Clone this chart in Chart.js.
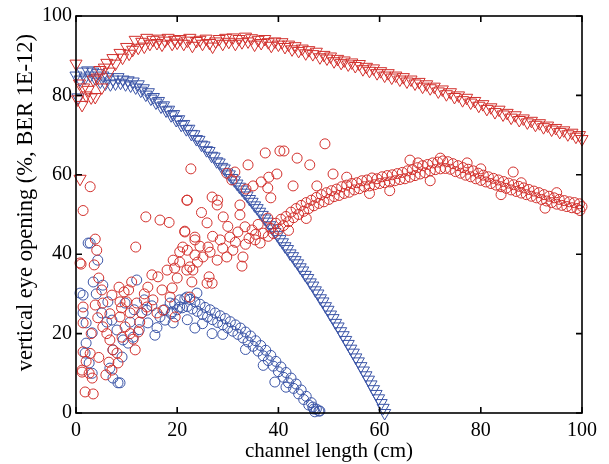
<!DOCTYPE html>
<html>
<head>
<meta charset="utf-8">
<script src="https://cdn.jsdelivr.net/npm/chart.js@4/dist/chart.umd.min.js"></script>
<style>
  body { margin: 0; background: #fff; }
  canvas { display: block; }
</style>
</head>
<body>
<canvas id="eyeChart" width="609" height="464"></canvas>
<script>
// x = channel length (cm), y = vertical eye opening (%)
const ticks = [0, 20, 40, 60, 80, 100];
const xTitle = 'channel length (cm)';
const yTitle = 'vertical eye opening (%, BER 1E-12)';

const redTri = [[0,88],[0.3,79],[0.7,83],[0.8,59],[1.2,77.6],[1.5,82],[2,80],[2.4,81.4],[3,79.5],[3.4,84],[3.8,79.6],[4.2,84.5],
  [4.7,86.4],[5.1,82],[5.6,87],[6.1,88.2],[6.6,86],[7.3,89.4],[7.8,88],[8.7,90.7],[9.2,89.5],[10,92.2],[10.5,90.5],
  [11.2,91.5],[11.7,94],[12.3,92],[13,93.5],[13.5,92.3],[14,94.5],[14.6,93],[15.2,94],[16,93.2],[16.5,94.3],[17,92.8],
  [17.6,93.8],[18.2,94.5],[19,93],[19.5,94],[20,93.3],[20.6,94.2],[21.3,93],[22,93.8],[22.5,94.5],[23,92.5],[23.8,93.7],
  [24.5,94],[25,93],[25.7,94.3],[26.4,93.2],[27,92.3],[27.6,93.6],[28.3,94.2],[29,93],[29.6,94.5],[30.2,93.5],[31,94.6],
  [31.5,93],[32.2,94.2],[32.8,93.4],[33.5,94.8],[34,93.6],[34.7,94.4],[35.3,92.8],[36,94],[36.6,93.2],[37.3,94.2],[38,93.4],
  [38.6,92.5],[39.3,93.6],[40,92.8],[40.7,93.4],[41.3,92.2],[42,92.8],[42.7,91.6],[43.3,92.4],[44,91.2],[44.7,91.8],
  [45.4,90.6],[46,91.4],[46.8,90.4],[47.5,91],[48.2,89.6],[49,90.2],[49.6,89.3],[50.3,89.8],[51,88.6],[51.7,89.2],
  [52.4,88.2],[53,88.8],[53.8,87.8],[54.5,88.3],[55.2,87.4],[56,87.9],[56.7,86.6],[57.4,87.2],[58,86.2],[58.8,86.8],
  [59.5,85.6],[60.2,86.1],[61,85],[61.7,85.6],[62.4,84.5],[63.2,85],[64,84],[64.7,84.6],[65.4,83.5],[66.2,84],[67,83],
  [67.8,83.4],[68.5,82.2],[69.3,82.8],[70,81.8],[70.8,82.2],[71.6,81],[72.4,81.5],[73.2,80.3],[74,80.8],[74.8,79.6],
  [75.6,80],[76.4,78.8],[77.2,79.4],[78,78.2],[78.8,78.6],[79.6,77.4],[80.4,77.8],[81.2,76.6],[82,77],[82.8,75.8],
  [83.6,76.4],[84.4,75.2],[85.2,75.6],[86,74.4],[86.8,75],[87.6,73.8],[88.4,74.2],[89.2,73.2],[90,73.6],[90.8,72.6],
  [91.6,73],[92.4,72],[93.2,72.4],[94,71.4],[94.8,71.8],[95.6,70.8],[96.4,71.2],[97.2,70.2],[98,70.6],[98.8,69.6],
  [99.5,70],[100,69]];

const blueTri = [[0,85],[0.4,79.5],[0.8,84],[1.3,86],[1.8,84.5],[2.3,86.3],[2.8,85],[3.3,86],[3.8,84.3],[4.3,85.6],
  [4.8,83.5],[5.3,85],[5.8,83],[6.3,84.6],[6.8,82.8],[7.3,84],[7.8,83],[8.3,84.6],[8.8,83.2],[9.3,84],[9.8,82.8],
  [10.3,83.8],[10.8,82.5],[11.3,83.5],[11.8,82],[12.3,82.8],[12.8,81.2],[13.3,81.8],[13.8,80.2],[14.3,80.8],[14.8,79.2],
  [15.3,79.6],[15.8,78.2],[16.3,78.6],[16.8,77.2],[17.3,77.5],[17.8,76.2],[18.3,76.4],[18.8,75],[19.3,75.3],[19.8,73.8],
  [20.3,74],[20.8,72.6],[21.3,72.8],[21.8,71.5],[22.3,71.6],[22.8,70.3],[23.3,70.2],[23.8,69],[24.3,68.8],[24.8,67.6],
  [25.3,67.4],[25.8,66.2],[26.3,66],[26.8,64.8],[27.3,64.6],[27.8,63.4],[28.3,63.1],[28.8,62],[29.3,61.6],[29.8,60.6],
  [30.3,60.1],[30.8,59.2],[31.3,58.6],[31.8,57.8],[32.3,57],[32.8,56.3],[33.3,55.5],[33.8,54.8],[34.3,53.9],[34.8,53.2],
  [35.3,52.3],[35.8,51.6],[36.3,50.7],[36.8,49.9],[37.3,49],[37.8,48.2],[38.3,47.3],[38.8,46.5],[39.3,45.6],[39.8,44.8],
  [40.3,43.8],[40.8,43],[41.3,42],[41.8,41.3],[42.3,40.2],[42.8,39.5],[43.3,38.5],[43.8,37.7],[44.3,36.7],[44.8,35.9],
  [45.3,34.8],[45.8,34],[46.3,32.9],[46.8,32.1],[47.3,30.9],[47.8,30.1],[48.3,28.9],[48.8,28.1],[49.3,26.9],[49.8,26],
  [50.3,24.8],[50.8,23.9],[51.3,22.7],[51.8,21.8],[52.3,20.6],[52.8,19.6],[53.3,18.4],[53.8,17.4],[54.3,16.2],[54.8,15.2],
  [55.3,14],[55.8,13],[56.3,11.8],[56.8,10.7],[57.3,9.5],[57.8,8.4],[58.3,7.2],[58.8,6],[59.3,4.8],[59.8,3.7],[60.3,2.5],
  [60.7,1.3],[61,0]];

const redCirc = [[2.8,57],[1.4,51],[3.8,43.8],[4.1,41],[1,37.5],[3.6,37.3],[4.5,34],[5.1,31],[7.1,29.7],[8.5,31.7],
  [9.5,30.5],[11.8,41.8],[13.8,49.4],[16.6,48.6],[18.4,48],[21.9,53.6],[21.5,45.8],[1.4,26.7],[1.4,22.7],[1.4,15.4],
  [1.2,10.8],[1.8,5.3],[3.4,4.8],[2.6,10],[3.2,8.8],[2.8,15],[4.3,24],[5.3,21.7],[6.1,20],[6.7,18.4],[7.3,15.9],
  [6.5,12.8],[8.3,12.6],[5.9,9.6],[7.1,10.8],[8.1,15.1],[6.7,25],[8.7,24.2],[9.7,21.7],[10.7,20],[11.7,15.9],[9.1,19.1],
  [12.3,20.4],[12.6,22.9],[12,27.7],[14,26.7],[15.2,28.5],[16,25.2],[14.2,31.7],[16.2,34.3],[15,34.8],[18,36],[19.2,38.5],
  [20.5,40.6],[19,31.5],[18.6,29.2],[17.2,25.9],[19.6,24.2],[21.9,36],[22.9,33],[22.5,29.2],[22,41],[23.5,43.6],
  [10.7,25.2],[13,25.2],[8.7,28],[5.3,27.7],[3.8,27.2],[0.8,37.8],[1.2,10.3],[3,20],[2,13],[4.5,14],[10,28],[11,33],
  [13.5,30],[17,31],[20,34],[10.4,31],[9,26.5],[11.3,18.6],
  [22.7,61.5],[22,53.6],[26.9,54.4],[28,53.6],[27.9,52.4],[29.8,60.4],[31.4,60.7],[30.8,58.7],[34,62.5],[37.4,65.5],
  [40.3,66],[41.1,66],[43.7,64.2],[46.2,62.5],[49.2,67.8],[39.7,60.2],[38.1,59.4],[36.6,58.2],[37.9,56.7],[38.5,54.2],
  [35,57.2],[33.6,56.4],[32.4,52.4],[32.4,49.9],[29.1,49.4],[25.9,47.9],[42.9,57.2],[47.6,57.2],[50.8,60.2],[21.5,45.6],
  [23.5,44.3],[26.1,41.8],[28.5,43.6],[30.4,44.3],[32,45.6],[33.4,46.9],[34.8,46.1],[35.4,43.6],[36.4,42.8],[37,45.3],
  [37.9,49.1],[27.9,38.5],[29.8,39.3],[31,41],[33,39.3],[25.1,39.3],[23.5,39.8],[22.5,36.8],[25.9,32.7],[26.9,32.7],
  [26.3,34.3],[23.1,36],[21.1,41.8],[24.5,42],[27,44.5],[29,41.5],[31.5,43],[33.5,42.5],[35.5,45],[36,47.5],[34.2,44],
  [30,47],[24,38],[26.5,40.5],[32.8,37],[20.5,38],[19.5,36.5],[24.8,50.5],
  [38,44.5],[38.5,46.5],[39,45.2],[39.5,47.8],[40,46.3],[40.5,48.8],[41,47.2],[41.5,49.5],[42,48.2],[42.5,50.6],[43,49.2],
  [43.5,51.5],[44,50],[44.5,52.3],[45,50.8],[45.5,53],[46,51.5],[46.5,53.6],[47,52.2],[47.5,54.3],[48,52.8],[48.5,55],
  [49,53.2],[49.5,55.5],[50,53.8],[50.5,56],[51,54.5],[51.5,56.4],[52,54.8],[52.5,57],[53,55.3],[53.5,57.4],[54,55.6],
  [54.5,57.8],[55,56.2],[55.5,58],[56,56.5],[56.5,58.5],[57,57],[57.5,58.7],[58,57.2],[58.5,59.2],[59,57.5],[59.5,59],
  [60,57.8],[60.5,59.5],[61,58],[61.5,59.8],[62,58.2],[62.5,60],[63,58.5],[63.5,60.3],[64,58.8],[64.5,60.6],[65,59],
  [65.5,61],[66,59.4],[66.5,61.3],[67,59.8],[67.5,61.8],[68,60.2],[68.5,62.3],[69,60.5],[69.5,62.6],[70,61],[70.5,63],
  [71,61.3],[71.5,63.2],[72,61.5],[72.5,63.5],[73,61.6],[73.5,63.3],[74,61.4],[74.5,62.8],[75,60.8],[75.5,62.3],[76,60.4],
  [76.5,61.8],[77,59.9],[77.5,61.4],[78,59.5],[78.5,61],[79,59],[79.5,60.4],[80,58.6],[80.5,59.9],[81,58.2],[81.5,59.5],
  [82,57.8],[82.5,59.1],[83,57.4],[83.5,58.7],[84,57],[84.5,58.3],[85,56.6],[85.5,57.9],[86,56.2],[86.5,57.5],[87,55.8],
  [87.5,57.1],[88,55.4],[88.5,56.7],[89,55],[89.5,56.3],[90,54.6],[90.5,55.9],[91,54.2],[91.5,55.5],[92,53.8],[92.5,55],
  [93,53.4],[93.5,54.6],[94,53],[94.5,54.2],[95,52.6],[95.5,53.8],[96,52.3],[96.5,53.5],[97,52],[97.5,53.2],[98,51.7],
  [98.5,53],[99,51.5],[99.5,52.7],[100,52],
  [53.5,59.4],[66,63.7],[67.6,63],[72,64.2],[77.3,63],[86.4,60.7],[92.7,51.6],[99.6,51],[62,56],[70,58.5],[80,61.5],
  [88,58],[95,55.5],[58,55.3],[45.5,49],[42,46],[84,55]];

const blueCirc = [[2.8,42.8],[4.3,38.5],[3.4,33],[1.4,29.7],[1.4,25.2],[2,22.7],[3.2,20.2],[2,17.6],[1.8,15.1],[2.6,12.6],
  [3.2,10],[7.3,8.8],[8.3,7.6],[6.7,11.3],[5.3,32.2],[6.3,28],[7.1,23.4],[8.1,20.9],[9.3,18.4],[10.3,17.6],[11.3,19.1],
  [12,33.5],[13,25.2],[14.2,22.7],[15.6,19.6],[16.6,24.2],[18.6,27.7],[17.6,23.4],[20.5,26.7],[21.9,29.2],[23.9,30.2],
  [19.2,22.7],[14,25.9],[10.7,22.9],[9.7,27.7],[6.1,22.9],[5.1,25.2],[7.3,15.9],[9.1,14.1],[2.4,42.8],[0.8,30.2],[8.7,7.6],
  [4,30],[11.5,26],[12.5,21],[15,27],[16,21.5],[17.5,26],[13.5,28.5],[18.8,25],
  [19,25.5],[19.5,27.5],[20,26],[20.5,28.5],[21,26.5],[21.5,28.8],[22,26.8],[22.5,28.6],[23,26.2],[23.5,28],[24,25.6],
  [24.5,27.4],[25,24.8],[25.5,26.6],[26,24.2],[26.5,26],[27,23.5],[27.5,25.2],[28,22.8],[28.5,24.5],[29,22.2],[29.5,23.8],
  [30,21.4],[30.5,23],[31,20.6],[31.5,22.2],[32,19.8],[32.5,21.4],[33,18.9],[33.5,20.4],[34,17.9],[34.5,19.4],[35,16.8],
  [35.5,18.2],[36,15.6],[36.5,17],[37,14.4],[37.5,15.8],[38,13.2],[38.5,14.5],[39,11.8],[39.5,13],[40,10.4],[40.5,11.6],
  [41,9],[41.5,10.2],[42,7.6],[42.5,8.8],[43,6.2],[43.5,7.3],[44,4.8],[44.5,5.8],[45,3.4],[45.5,4.2],[46,2],[46.5,2.6],
  [47,1],[47.5,1],[48,0.5],[48.2,0.5],[47.2,0.3],[46.8,1.5],
  [23.5,21.4],[26.9,20],[39.3,7.8],[22,23.5],[29,19.8],[33.5,16],[37,12],[41.5,6.5],[25,22.5]];

const RED = '#d2302c';
const BLUE = '#3b55a7';
const serif = '"Liberation Serif", "Times New Roman", serif';

const toPts = arr => arr.map(p => ({x: p[0], y: p[1]}));

// box around the plot with inward ticks on all four sides, plus the y title
const frame = {
  id: 'frame',
  afterDatasetsDraw(chart) {
    const {ctx, chartArea: a, scales: {x, y}} = chart;
    ctx.save();
    ctx.strokeStyle = '#000';
    ctx.lineWidth = 1.6;
    ctx.strokeRect(a.left, a.top, a.right - a.left, a.bottom - a.top);
    ctx.beginPath();
    x.ticks.forEach(t => {
      const px = x.getPixelForValue(t.value);
      ctx.moveTo(px, a.bottom); ctx.lineTo(px, a.bottom - 6);
      ctx.moveTo(px, a.top); ctx.lineTo(px, a.top + 6);
    });
    y.ticks.forEach(t => {
      const py = y.getPixelForValue(t.value);
      ctx.moveTo(a.left, py); ctx.lineTo(a.left + 6, py);
      ctx.moveTo(a.right, py); ctx.lineTo(a.right - 6, py);
    });
    ctx.stroke();

    ctx.translate(26, a.top + (a.bottom - a.top) * 0.47);
    ctx.rotate(-Math.PI / 2);
    ctx.fillStyle = '#000';
    ctx.font = '22.5px ' + serif;
    ctx.textAlign = 'center';
    ctx.textBaseline = 'middle';
    ctx.fillText(yTitle, 0, 0);
    ctx.restore();
  }
};

const mk = (data, color, tri) => ({
  data: toPts(data),
  borderColor: color,
  backgroundColor: 'rgba(0,0,0,0)',
  borderWidth: 1,
  pointStyle: tri ? 'triangle' : 'circle',
  pointRotation: tri ? 180 : 0,
  pointRadius: tri ? 7 : 5,
  pointHoverRadius: tri ? 7 : 5,
  clip: false
});

new Chart(document.getElementById('eyeChart'), {
  type: 'scatter',
  data: {
    datasets: [
      mk(redTri, RED, true),
      mk(redCirc, RED, false),
      mk(blueTri, BLUE, true),
      mk(blueCirc, BLUE, false)
    ]
  },
  options: {
    responsive: false,
    animation: false,
    layout: { padding: { left: 0, top: 16, right: 27, bottom: 0 } },
    plugins: { legend: { display: false }, tooltip: { enabled: false } },
    scales: {
      x: {
        min: 0, max: 100,
        afterBuildTicks: s => { s.ticks = ticks.map(v => ({value: v})); },
        afterFit: s => { s.height = 51; },
        grid: { display: false, drawTicks: false },
        border: { display: false },
        ticks: { color: '#000', padding: 6, maxRotation: 0, font: { family: serif, size: 20 } },
        title: { display: true, text: xTitle, color: '#000', padding: { top: 0, bottom: 0 },
                 font: { family: serif, size: 21 } }
      },
      y: {
        min: 0, max: 100,
        afterBuildTicks: s => { s.ticks = ticks.map(v => ({value: v})); },
        afterFit: s => { s.width = 76; },
        grid: { display: false, drawTicks: false },
        border: { display: false },
        ticks: { color: '#000', padding: 4, font: { family: serif, size: 20 } }
      }
    }
  },
  plugins: [frame]
});
</script>
</body>
</html>
